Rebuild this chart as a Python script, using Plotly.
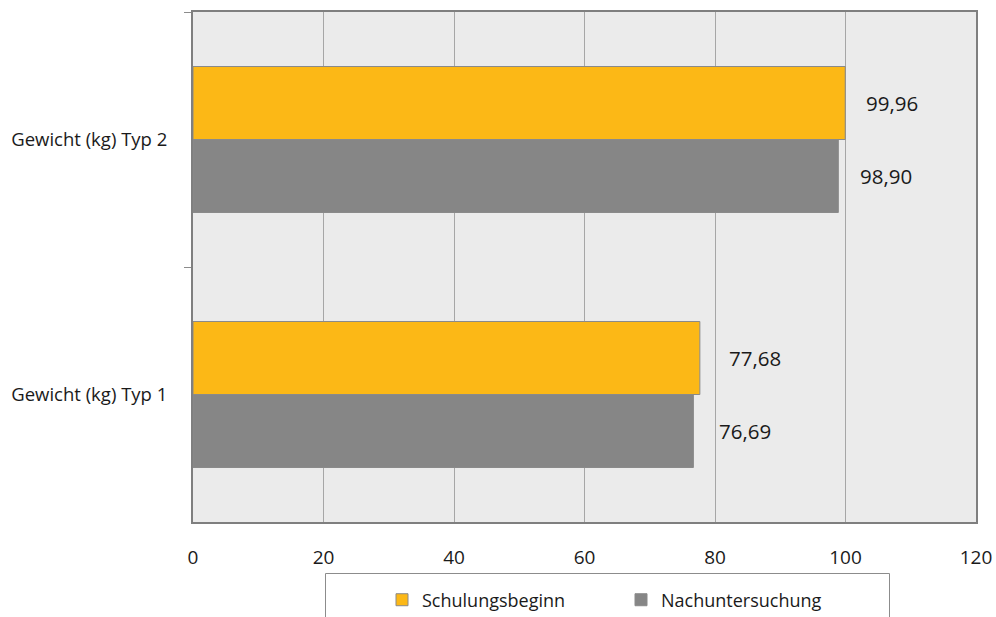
import plotly.graph_objects as go

categories = ["Gewicht (kg) Typ 2", "Gewicht (kg) Typ 1"]
series_names = ["Schulungsbeginn", "Nachuntersuchung"]
schulungsbeginn = [99.96, 77.68]
nachuntersuchung = [98.90, 76.69]
colors = ["#FCB816", "#868686"]
x_ticks = [0, 20, 40, 60, 80, 100, 120]

FONT = "Open Sans"

def fmt(v):
    return f"{v:.2f}".replace(".", ",")

fig = go.Figure()
for name, vals, col in zip(series_names, [schulungsbeginn, nachuntersuchung], colors):
    fig.add_trace(go.Bar(
        y=categories, x=vals, name=name, orientation="h",
        marker=dict(color=col, line=dict(color="#8a8a8a", width=1)),
    ))

# data labels (placed right of each bar end)
label_shift = [[19, 27], [20, 24]]
annots = []
for k, vals in enumerate([schulungsbeginn, nachuntersuchung]):
    for j, (cat, v) in enumerate(zip(categories, vals)):
        annots.append(dict(
            x=v, y=cat, xref="x", yref="y", text=fmt(v), showarrow=False,
            xanchor="left", yanchor="middle",
            yshift=36.5 if k == 0 else -36.5, xshift=label_shift[k][j],
            font=dict(family=FONT, size=20.5, color="#1a1a1a"),
        ))

fig.update_layout(
    width=996, height=617,
    margin=dict(l=193, r=20, t=12, b=95, autoexpand=False),
    paper_bgcolor="white", plot_bgcolor="#EBEBEB",
    barmode="group", bargap=0.4275, bargroupgap=0,
    font=dict(family=FONT, size=18, color="#1a1a1a"),
    annotations=annots,
    showlegend=True,
    legend=dict(
        orientation="h", x=(382 - 193) / 783, xanchor="left", y=-0.153, yanchor="middle",
        font=dict(family=FONT, size=18, color="#1a1a1a"),
        bgcolor="rgba(0,0,0,0)", itemwidth=30, entrywidth=194,
        traceorder="normal",
    ),
    shapes=[dict(type="rect", xref="paper", yref="paper",
                 x0=(325.5 - 193) / 783, x1=(889.5 - 193) / 783,
                 y0=(522 - 630) / 510, y1=(522 - 573.5) / 510,
                 line=dict(color="#8c8c8c", width=1), fillcolor="rgba(0,0,0,0)")],
)

fig.update_xaxes(
    range=[0, 120], tickvals=x_ticks, ticktext=[str(t) for t in x_ticks],
    showgrid=True, gridcolor="#A6A6A6", gridwidth=1,
    showline=True, linecolor="#7F7F7F", linewidth=2, mirror=True,
    ticks="", tickfont=dict(family=FONT, size=19, color="#1a1a1a"),
    ticklabelstandoff=17, zeroline=False,
)
fig.update_yaxes(
    autorange="reversed", type="category",
    showline=True, linecolor="#7F7F7F", linewidth=2, mirror=True,
    ticks="outside", tickson="boundaries", ticklen=7, tickcolor="#8c8c8c",
    tickfont=dict(family=FONT, size=18.5, color="#1a1a1a"),
    ticklabelstandoff=20, showgrid=False,
)

fig.write_html("out.html")
